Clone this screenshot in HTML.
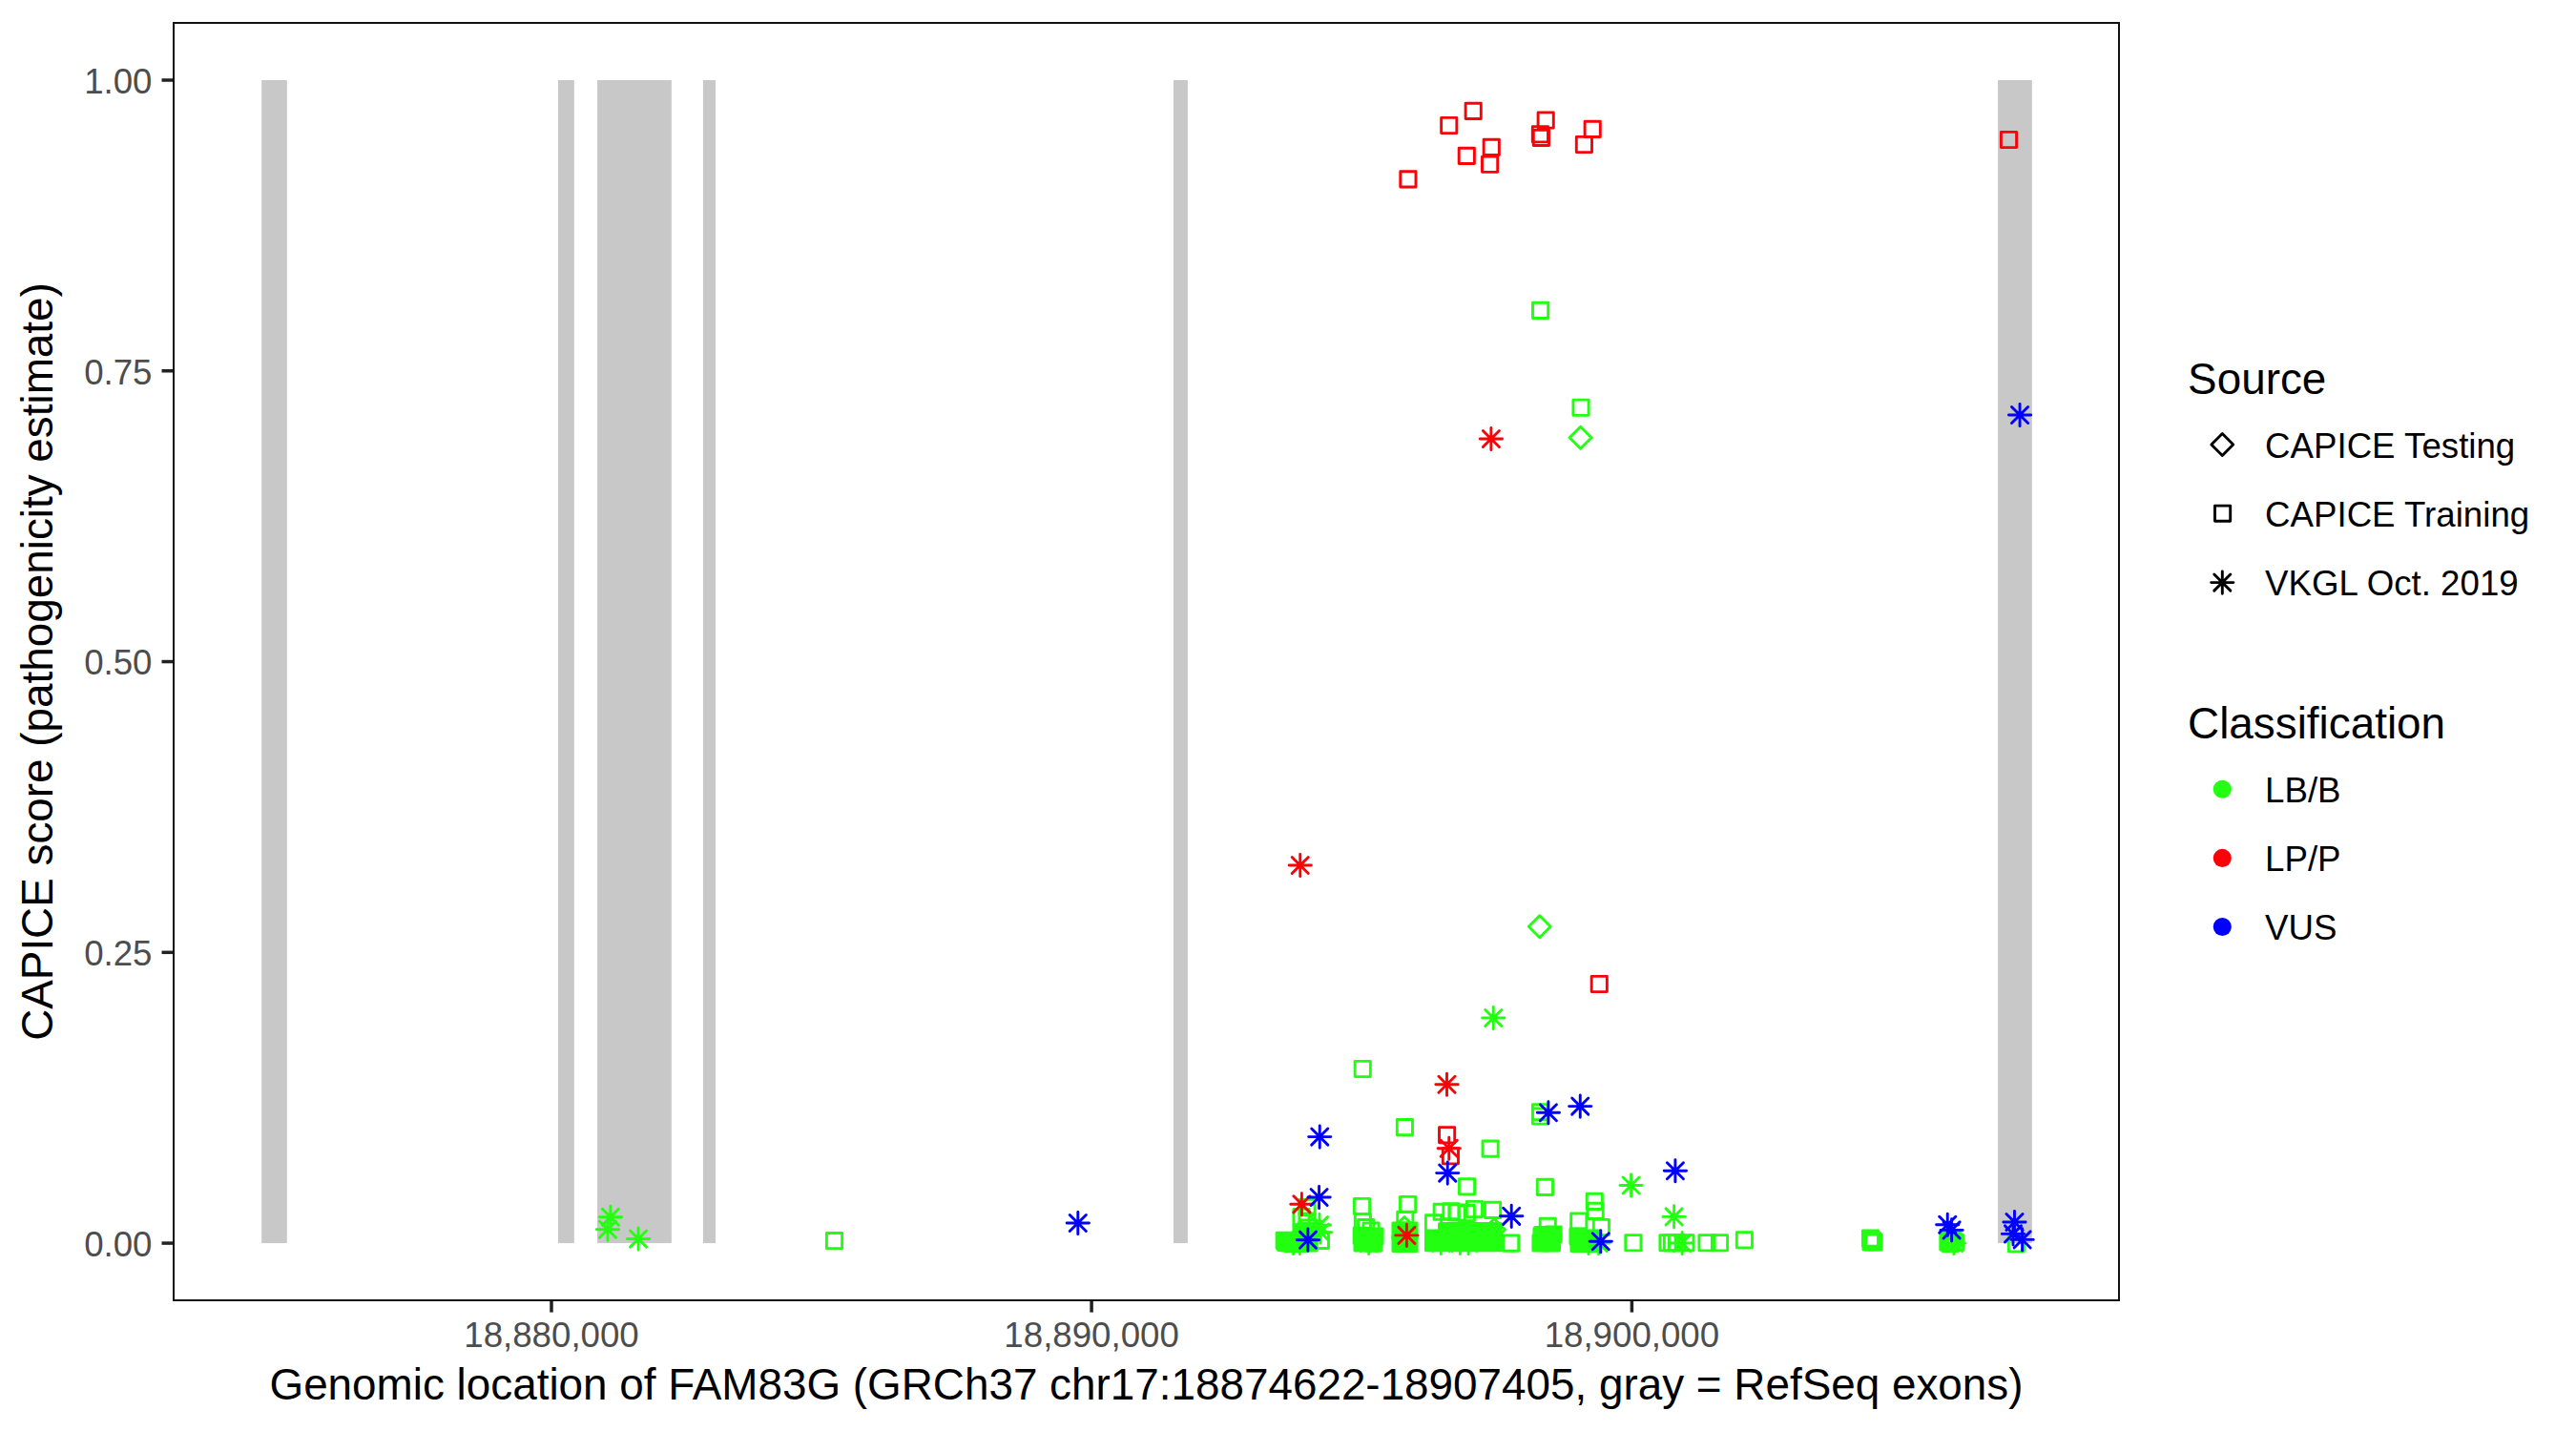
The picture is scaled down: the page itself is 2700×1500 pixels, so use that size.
<!DOCTYPE html>
<html><head><meta charset="utf-8"><title>CAPICE FAM83G plot</title>
<style>
html,body{margin:0;padding:0;background:#fff;overflow:hidden;}
svg{display:block;}
text{font-family:"Liberation Sans",sans-serif;}
</style></head>
<body>
<svg width="2700" height="1500" viewBox="0 0 2700 1500">
<rect x="0" y="0" width="2700" height="1500" fill="#FFFFFF"/>
<rect x="274.2" y="84.0" width="26.60" height="1219.10" fill="#C8C8C8"/>
<rect x="585" y="84.0" width="16.80" height="1219.10" fill="#C8C8C8"/>
<rect x="626.05" y="84.0" width="77.80" height="1219.10" fill="#C8C8C8"/>
<rect x="736.9" y="84.0" width="13.10" height="1219.10" fill="#C8C8C8"/>
<rect x="1230" y="84.0" width="14.90" height="1219.10" fill="#C8C8C8"/>
<rect x="2094.06" y="84.0" width="35.74" height="1219.10" fill="#C8C8C8"/>
<g fill="#22FF11" stroke="none"><rect x="1338" y="1292" width="43" height="20" rx="2"/><rect x="1355" y="1284" width="26" height="9" rx="2"/><rect x="1419" y="1287" width="29" height="25" rx="2"/><rect x="1459" y="1281" width="27" height="31" rx="2"/><rect x="1493" y="1289" width="82" height="23.299999999999955" rx="2"/><rect x="1507" y="1281" width="68" height="9" rx="2"/><rect x="1607" y="1285" width="29" height="27" rx="2"/><rect x="1646" y="1289" width="30" height="23" rx="2"/></g>
<g fill="none" stroke-width="2.9" stroke-linejoin="round"><rect x="1606.50" y="317.30" width="16.20" height="16.20" stroke="#22FF11"/><rect x="1648.90" y="419.15" width="16.20" height="16.20" stroke="#22FF11"/><rect x="1420.15" y="1112.40" width="16.20" height="16.20" stroke="#22FF11"/><rect x="1464.30" y="1173.50" width="16.20" height="16.20" stroke="#22FF11"/><rect x="1554.00" y="1196.00" width="16.20" height="16.20" stroke="#22FF11"/><rect x="1606.40" y="1157.60" width="16.20" height="16.20" stroke="#22FF11"/><rect x="1606.40" y="1161.90" width="16.20" height="16.20" stroke="#22FF11"/><rect x="1529.40" y="1235.65" width="16.20" height="16.20" stroke="#22FF11"/><rect x="1611.30" y="1236.30" width="16.20" height="16.20" stroke="#22FF11"/><rect x="1663.15" y="1251.30" width="16.20" height="16.20" stroke="#22FF11"/><rect x="1664.00" y="1261.30" width="16.20" height="16.20" stroke="#22FF11"/><rect x="1646.65" y="1271.90" width="16.20" height="16.20" stroke="#22FF11"/><rect x="1670.30" y="1278.40" width="16.20" height="16.20" stroke="#22FF11"/><rect x="1703.80" y="1294.65" width="16.20" height="16.20" stroke="#22FF11"/><rect x="1739.90" y="1294.65" width="16.20" height="16.20" stroke="#22FF11"/><rect x="1744.40" y="1294.65" width="16.20" height="16.20" stroke="#22FF11"/><rect x="1749.40" y="1294.65" width="16.20" height="16.20" stroke="#22FF11"/><rect x="1758.80" y="1294.65" width="16.20" height="16.20" stroke="#22FF11"/><rect x="1780.90" y="1294.65" width="16.20" height="16.20" stroke="#22FF11"/><rect x="1794.40" y="1294.65" width="16.20" height="16.20" stroke="#22FF11"/><rect x="1820.30" y="1291.65" width="16.20" height="16.20" stroke="#22FF11"/><rect x="1952.40" y="1290.00" width="16.20" height="16.20" stroke="#22FF11"/><rect x="1955.80" y="1293.80" width="16.20" height="16.20" stroke="#22FF11"/><rect x="1954.10" y="1291.90" width="16.20" height="16.20" stroke="#22FF11"/><rect x="1952.90" y="1293.90" width="16.20" height="16.20" stroke="#22FF11"/><rect x="2033.80" y="1293.80" width="16.20" height="16.20" stroke="#22FF11"/><rect x="2041.30" y="1294.40" width="16.20" height="16.20" stroke="#22FF11"/><rect x="2036.90" y="1291.90" width="16.20" height="16.20" stroke="#22FF11"/><rect x="2035.90" y="1295.40" width="16.20" height="16.20" stroke="#22FF11"/><rect x="2038.90" y="1289.90" width="16.20" height="16.20" stroke="#22FF11"/><rect x="2105.30" y="1295.65" width="16.20" height="16.20" stroke="#22FF11"/><rect x="866.40" y="1292.50" width="16.20" height="16.20" stroke="#22FF11"/><rect x="1338.10" y="1292.30" width="16.20" height="16.20" stroke="#22FF11"/><rect x="1342.90" y="1294.90" width="16.20" height="16.20" stroke="#22FF11"/><rect x="1347.90" y="1295.40" width="16.20" height="16.20" stroke="#22FF11"/><rect x="1353.90" y="1295.40" width="16.20" height="16.20" stroke="#22FF11"/><rect x="1357.90" y="1292.90" width="16.20" height="16.20" stroke="#22FF11"/><rect x="1363.90" y="1294.90" width="16.20" height="16.20" stroke="#22FF11"/><rect x="1355.90" y="1284.40" width="16.20" height="16.20" stroke="#22FF11"/><rect x="1360.90" y="1281.90" width="16.20" height="16.20" stroke="#22FF11"/><rect x="1355.90" y="1267.40" width="16.20" height="16.20" stroke="#22FF11"/><rect x="1361.90" y="1257.40" width="16.20" height="16.20" stroke="#22FF11"/><rect x="1361.90" y="1271.90" width="16.20" height="16.20" stroke="#22FF11"/><rect x="1363.90" y="1278.90" width="16.20" height="16.20" stroke="#22FF11"/><rect x="1376.30" y="1292.30" width="16.20" height="16.20" stroke="#22FF11"/><rect x="1419.40" y="1256.40" width="16.20" height="16.20" stroke="#22FF11"/><rect x="1420.30" y="1272.80" width="16.20" height="16.20" stroke="#22FF11"/><rect x="1423.50" y="1278.50" width="16.20" height="16.20" stroke="#22FF11"/><rect x="1428.90" y="1281.90" width="16.20" height="16.20" stroke="#22FF11"/><rect x="1419.10" y="1287.20" width="16.20" height="16.20" stroke="#22FF11"/><rect x="1431.30" y="1295.00" width="16.20" height="16.20" stroke="#22FF11"/><rect x="1419.90" y="1294.90" width="16.20" height="16.20" stroke="#22FF11"/><rect x="1425.90" y="1291.90" width="16.20" height="16.20" stroke="#22FF11"/><rect x="1432.90" y="1287.90" width="16.20" height="16.20" stroke="#22FF11"/><rect x="1467.50" y="1254.40" width="16.20" height="16.20" stroke="#22FF11"/><rect x="1464.70" y="1270.30" width="16.20" height="16.20" stroke="#22FF11"/><rect x="1459.90" y="1281.90" width="16.20" height="16.20" stroke="#22FF11"/><rect x="1468.90" y="1281.90" width="16.20" height="16.20" stroke="#22FF11"/><rect x="1459.90" y="1295.40" width="16.20" height="16.20" stroke="#22FF11"/><rect x="1468.90" y="1295.40" width="16.20" height="16.20" stroke="#22FF11"/><rect x="1464.90" y="1288.90" width="16.20" height="16.20" stroke="#22FF11"/><rect x="1503.10" y="1262.20" width="16.20" height="16.20" stroke="#22FF11"/><rect x="1512.80" y="1261.60" width="16.20" height="16.20" stroke="#22FF11"/><rect x="1518.90" y="1262.90" width="16.20" height="16.20" stroke="#22FF11"/><rect x="1529.20" y="1263.50" width="16.20" height="16.20" stroke="#22FF11"/><rect x="1537.30" y="1259.40" width="16.20" height="16.20" stroke="#22FF11"/><rect x="1556.40" y="1260.30" width="16.20" height="16.20" stroke="#22FF11"/><rect x="1494.40" y="1273.70" width="16.20" height="16.20" stroke="#22FF11"/><rect x="1494.40" y="1294.20" width="16.20" height="16.20" stroke="#22FF11"/><rect x="1575.50" y="1295.00" width="16.20" height="16.20" stroke="#22FF11"/><rect x="1614.20" y="1277.20" width="16.20" height="16.20" stroke="#22FF11"/><rect x="1607.90" y="1287.90" width="16.20" height="16.20" stroke="#22FF11"/><rect x="1617.90" y="1294.90" width="16.20" height="16.20" stroke="#22FF11"/><rect x="1606.90" y="1294.90" width="16.20" height="16.20" stroke="#22FF11"/><rect x="1619.90" y="1285.90" width="16.20" height="16.20" stroke="#22FF11"/><rect x="1645.90" y="1287.90" width="16.20" height="16.20" stroke="#22FF11"/><rect x="1646.90" y="1295.40" width="16.20" height="16.20" stroke="#22FF11"/><rect x="1655.90" y="1295.40" width="16.20" height="16.20" stroke="#22FF11"/><rect x="1659.90" y="1289.90" width="16.20" height="16.20" stroke="#22FF11"/></g>
<g fill="none" stroke-width="2.9" stroke-linejoin="round"><path d="M1656.60 447.30L1668.05 458.75L1656.60 470.20L1645.15 458.75Z" stroke="#22FF11"/><path d="M1613.75 959.80L1625.20 971.25L1613.75 982.70L1602.30 971.25Z" stroke="#22FF11"/><path d="M1472.00 1275.55L1483.45 1287.00L1472.00 1298.45L1460.55 1287.00Z" stroke="#22FF11"/><path d="M1566.00 1277.55L1577.45 1289.00L1566.00 1300.45L1554.55 1289.00Z" stroke="#22FF11"/></g>
<g fill="none" stroke-width="2.9" stroke-linecap="round"><path d="M1553.60 1067.00H1576.90M1565.25 1055.35V1078.65M1556.70 1058.45L1573.80 1075.55M1556.70 1075.55L1573.80 1058.45" stroke="#22FF11"/><path d="M1697.95 1242.50H1721.25M1709.60 1230.85V1254.15M1701.05 1233.95L1718.15 1251.05M1701.05 1251.05L1718.15 1233.95" stroke="#22FF11"/><path d="M1742.95 1275.40H1766.25M1754.60 1263.75V1287.05M1746.05 1266.85L1763.15 1283.95M1746.05 1283.95L1763.15 1266.85" stroke="#22FF11"/><path d="M628.25 1275.75H651.55M639.90 1264.10V1287.40M631.35 1267.20L648.45 1284.30M631.35 1284.30L648.45 1267.20" stroke="#22FF11"/><path d="M625.35 1288.75H648.65M637.00 1277.10V1300.40M628.45 1280.20L645.55 1297.30M628.45 1297.30L645.55 1280.20" stroke="#22FF11"/><path d="M657.45 1298.60H680.75M669.10 1286.95V1310.25M660.55 1290.05L677.65 1307.15M660.55 1307.15L677.65 1290.05" stroke="#22FF11"/><path d="M1371.35 1284.20H1394.65M1383.00 1272.55V1295.85M1374.45 1275.65L1391.55 1292.75M1374.45 1292.75L1391.55 1275.65" stroke="#22FF11"/><path d="M1372.35 1291.60H1395.65M1384.00 1279.95V1303.25M1375.45 1283.05L1392.55 1300.15M1375.45 1300.15L1392.55 1283.05" stroke="#22FF11"/><path d="M1343.85 1303.00H1367.15M1355.50 1291.35V1314.65M1346.95 1294.45L1364.05 1311.55M1346.95 1311.55L1364.05 1294.45" stroke="#22FF11"/><path d="M1350.65 1303.00H1373.95M1362.30 1291.35V1314.65M1353.75 1294.45L1370.85 1311.55M1353.75 1311.55L1370.85 1294.45" stroke="#22FF11"/><path d="M1423.10 1303.00H1446.40M1434.75 1291.35V1314.65M1426.20 1294.45L1443.30 1311.55M1426.20 1311.55L1443.30 1294.45" stroke="#22FF11"/><path d="M1498.65 1303.00H1521.95M1510.30 1291.35V1314.65M1501.75 1294.45L1518.85 1311.55M1501.75 1311.55L1518.85 1294.45" stroke="#22FF11"/><path d="M1518.75 1303.00H1542.05M1530.40 1291.35V1314.65M1521.85 1294.45L1538.95 1311.55M1521.85 1311.55L1538.95 1294.45" stroke="#22FF11"/><path d="M1527.45 1303.00H1550.75M1539.10 1291.35V1314.65M1530.55 1294.45L1547.65 1311.55M1530.55 1311.55L1547.65 1294.45" stroke="#22FF11"/><path d="M1653.35 1303.00H1676.65M1665.00 1291.35V1314.65M1656.45 1294.45L1673.55 1311.55M1656.45 1311.55L1673.55 1294.45" stroke="#22FF11"/><path d="M1663.95 1303.00H1687.25M1675.60 1291.35V1314.65M1667.05 1294.45L1684.15 1311.55M1667.05 1311.55L1684.15 1294.45" stroke="#22FF11"/><path d="M1751.45 1303.00H1774.75M1763.10 1291.35V1314.65M1754.55 1294.45L1771.65 1311.55M1754.55 1311.55L1771.65 1294.45" stroke="#22FF11"/><path d="M2036.25 1303.00H2059.55M2047.90 1291.35V1314.65M2039.35 1294.45L2056.45 1311.55M2039.35 1311.55L2056.45 1294.45" stroke="#22FF11"/></g>
<g fill="none" stroke-width="2.9" stroke-linejoin="round"><rect x="1536.10" y="108.30" width="16.20" height="16.20" stroke="#FA0308"/><rect x="1510.65" y="123.40" width="16.20" height="16.20" stroke="#FA0308"/><rect x="1529.20" y="155.30" width="16.20" height="16.20" stroke="#FA0308"/><rect x="1555.15" y="146.30" width="16.20" height="16.20" stroke="#FA0308"/><rect x="1553.50" y="164.15" width="16.20" height="16.20" stroke="#FA0308"/><rect x="1467.80" y="179.80" width="16.20" height="16.20" stroke="#FA0308"/><rect x="1612.10" y="117.90" width="16.20" height="16.20" stroke="#FA0308"/><rect x="1606.30" y="132.65" width="16.20" height="16.20" stroke="#FA0308"/><rect x="1607.30" y="136.30" width="16.20" height="16.20" stroke="#FA0308"/><rect x="1661.10" y="127.30" width="16.20" height="16.20" stroke="#FA0308"/><rect x="1652.30" y="143.40" width="16.20" height="16.20" stroke="#FA0308"/><rect x="2097.40" y="138.40" width="16.20" height="16.20" stroke="#FA0308"/><rect x="1668.15" y="1023.40" width="16.20" height="16.20" stroke="#FA0308"/><rect x="1508.50" y="1181.65" width="16.20" height="16.20" stroke="#FA0308"/><rect x="1512.30" y="1203.65" width="16.20" height="16.20" stroke="#FA0308"/></g>
<g fill="none" stroke-width="2.9" stroke-linecap="round"><path d="M1551.25 460.00H1574.55M1562.90 448.35V471.65M1554.35 451.45L1571.45 468.55M1554.35 468.55L1571.45 451.45" stroke="#FA0308"/><path d="M1351.10 907.00H1374.40M1362.75 895.35V918.65M1354.20 898.45L1371.30 915.55M1354.20 915.55L1371.30 898.45" stroke="#FA0308"/><path d="M1504.85 1136.75H1528.15M1516.50 1125.10V1148.40M1507.95 1128.20L1525.05 1145.30M1507.95 1145.30L1525.05 1128.20" stroke="#FA0308"/><path d="M1507.10 1203.75H1530.40M1518.75 1192.10V1215.40M1510.20 1195.20L1527.30 1212.30M1510.20 1212.30L1527.30 1195.20" stroke="#FA0308"/><path d="M1352.75 1262.30H1376.05M1364.40 1250.65V1273.95M1355.85 1253.75L1372.95 1270.85M1355.85 1270.85L1372.95 1253.75" stroke="#FA0308"/><path d="M1462.75 1294.90H1486.05M1474.40 1283.25V1306.55M1465.85 1286.35L1482.95 1303.45M1465.85 1303.45L1482.95 1286.35" stroke="#FA0308"/></g>
<g fill="none" stroke-width="2.9" stroke-linecap="round"><path d="M2105.41 435.00H2128.71M2117.06 423.35V446.65M2108.51 426.45L2125.61 443.55M2108.51 443.55L2125.61 426.45" stroke="#0000FF"/><path d="M1371.60 1191.60H1394.90M1383.25 1179.95V1203.25M1374.70 1183.05L1391.80 1200.15M1374.70 1200.15L1391.80 1183.05" stroke="#0000FF"/><path d="M1611.25 1166.25H1634.55M1622.90 1154.60V1177.90M1614.35 1157.70L1631.45 1174.80M1614.35 1174.80L1631.45 1157.70" stroke="#0000FF"/><path d="M1644.60 1159.60H1667.90M1656.25 1147.95V1171.25M1647.70 1151.05L1664.80 1168.15M1647.70 1168.15L1664.80 1151.05" stroke="#0000FF"/><path d="M1505.60 1229.60H1528.90M1517.25 1217.95V1241.25M1508.70 1221.05L1525.80 1238.15M1508.70 1238.15L1525.80 1221.05" stroke="#0000FF"/><path d="M1370.95 1255.00H1394.25M1382.60 1243.35V1266.65M1374.05 1246.45L1391.15 1263.55M1374.05 1263.55L1391.15 1246.45" stroke="#0000FF"/><path d="M1359.25 1299.70H1382.55M1370.90 1288.05V1311.35M1362.35 1291.15L1379.45 1308.25M1362.35 1308.25L1379.45 1291.15" stroke="#0000FF"/><path d="M1572.55 1274.80H1595.85M1584.20 1263.15V1286.45M1575.65 1266.25L1592.75 1283.35M1575.65 1283.35L1592.75 1266.25" stroke="#0000FF"/><path d="M1744.25 1227.25H1767.55M1755.90 1215.60V1238.90M1747.35 1218.70L1764.45 1235.80M1747.35 1235.80L1764.45 1218.70" stroke="#0000FF"/><path d="M1666.10 1301.25H1689.40M1677.75 1289.60V1312.90M1669.20 1292.70L1686.30 1309.80M1669.20 1309.80L1686.30 1292.70" stroke="#0000FF"/><path d="M2029.60 1283.75H2052.90M2041.25 1272.10V1295.40M2032.70 1275.20L2049.80 1292.30M2032.70 1292.30L2049.80 1275.20" stroke="#0000FF"/><path d="M2033.95 1289.40H2057.25M2045.60 1277.75V1301.05M2037.05 1280.85L2054.15 1297.95M2037.05 1297.95L2054.15 1280.85" stroke="#0000FF"/><path d="M2099.85 1281.00H2123.15M2111.50 1269.35V1292.65M2102.95 1272.45L2120.05 1289.55M2102.95 1289.55L2120.05 1272.45" stroke="#0000FF"/><path d="M2098.35 1293.40H2121.65M2110.00 1281.75V1305.05M2101.45 1284.85L2118.55 1301.95M2101.45 1301.95L2118.55 1284.85" stroke="#0000FF"/><path d="M2107.95 1299.40H2131.25M2119.60 1287.75V1311.05M2111.05 1290.85L2128.15 1307.95M2111.05 1307.95L2128.15 1290.85" stroke="#0000FF"/><path d="M1118.15 1282.00H1141.45M1129.80 1270.35V1293.65M1121.25 1273.45L1138.35 1290.55M1121.25 1290.55L1138.35 1273.45" stroke="#0000FF"/></g>
<rect x="182" y="24" width="2039" height="1339" fill="none" stroke="#111111" stroke-width="2"/>
<text x="159.5" y="97.80" text-anchor="end" fill="#4D4D4D" font-size="36.67">1.00</text>
<text x="159.5" y="402.57" text-anchor="end" fill="#4D4D4D" font-size="36.67">0.75</text>
<text x="159.5" y="707.35" text-anchor="end" fill="#4D4D4D" font-size="36.67">0.50</text>
<text x="159.5" y="1012.12" text-anchor="end" fill="#4D4D4D" font-size="36.67">0.25</text>
<text x="159.5" y="1316.90" text-anchor="end" fill="#4D4D4D" font-size="36.67">0.00</text>
<text x="578.0" y="1412.3" text-anchor="middle" fill="#4D4D4D" font-size="36.67">18,880,000</text>
<text x="1144.1" y="1412.3" text-anchor="middle" fill="#4D4D4D" font-size="36.67">18,890,000</text>
<text x="1710.4" y="1412.3" text-anchor="middle" fill="#4D4D4D" font-size="36.67">18,900,000</text>
<path d="M169.5 84.00H181" stroke="#222222" stroke-width="3.5"/>
<path d="M169.5 388.77H181" stroke="#222222" stroke-width="3.5"/>
<path d="M169.5 693.55H181" stroke="#222222" stroke-width="3.5"/>
<path d="M169.5 998.32H181" stroke="#222222" stroke-width="3.5"/>
<path d="M169.5 1303.10H181" stroke="#222222" stroke-width="3.5"/>
<path d="M578.0 1364V1375.6" stroke="#222222" stroke-width="3.5"/>
<path d="M1144.1 1364V1375.6" stroke="#222222" stroke-width="3.5"/>
<path d="M1710.4 1364V1375.6" stroke="#222222" stroke-width="3.5"/>
<text x="1201.5" y="1467" text-anchor="middle" fill="#000000" font-size="45.83">Genomic location of FAM83G (GRCh37 chr17:18874622-18907405, gray = RefSeq exons)</text>
<text transform="translate(55,693.5) rotate(-90)" x="0" y="0" text-anchor="middle" fill="#000000" font-size="45.83">CAPICE score (pathogenicity estimate)</text>
<text x="2293.1" y="412.9" fill="#000" font-size="45.83">Source</text>
<text x="2374.1" y="480" fill="#000" font-size="36.67">CAPICE Testing</text>
<text x="2374.1" y="552.3" fill="#000" font-size="36.67">CAPICE Training</text>
<text x="2374.1" y="624" fill="#000" font-size="36.67">VKGL Oct. 2019</text>
<g fill="none" stroke="#000" stroke-width="2.9" stroke-linejoin="round" stroke-linecap="round"><path d="M2329.30 454.55L2340.75 466.00L2329.30 477.45L2317.85 466.00Z" stroke="#000"/><rect x="2321.50" y="530.10" width="16.20" height="16.20" stroke="#000"/><path d="M2317.65 610.60H2340.95M2329.30 598.95V622.25M2320.75 602.05L2337.85 619.15M2320.75 619.15L2337.85 602.05" stroke="#000"/></g>
<text x="2293.1" y="774.4" fill="#000" font-size="45.83">Classification</text>
<text x="2374.1" y="841.1" fill="#000" font-size="36.67">LB/B</text>
<text x="2374.1" y="913.2" fill="#000" font-size="36.67">LP/P</text>
<text x="2374.1" y="985.3" fill="#000" font-size="36.67">VUS</text>
<circle cx="2329.3" cy="827.3" r="9.55" fill="#22FF11"/>
<circle cx="2329.3" cy="899.4" r="9.55" fill="#FA0308"/>
<circle cx="2329.3" cy="971.5" r="9.55" fill="#0000FF"/>
</svg>
</body></html>
